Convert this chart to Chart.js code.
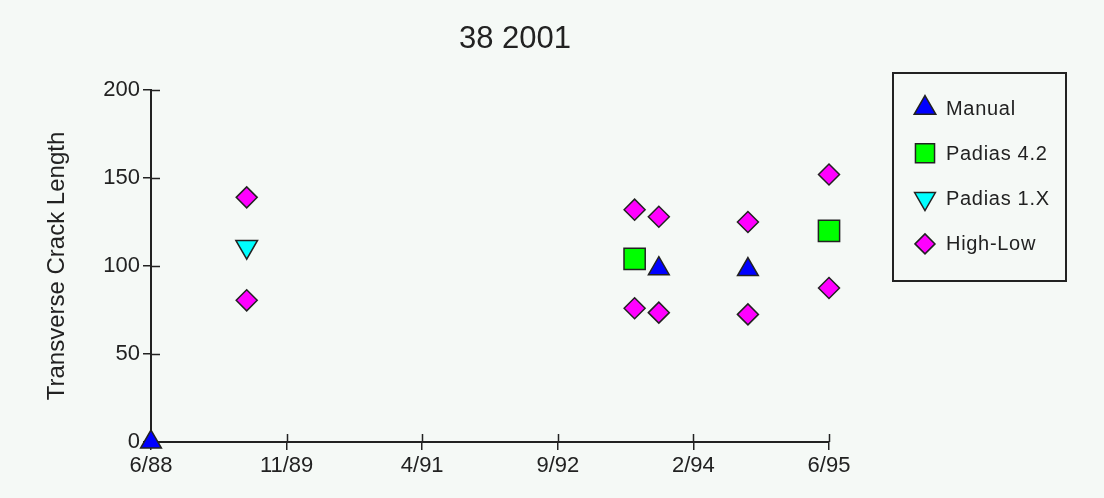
<!DOCTYPE html>
<html>
<head>
<meta charset="utf-8">
<script src="https://cdn.jsdelivr.net/npm/chart.js@4.4.0/dist/chart.umd.min.js"></script>
<style>
  html, body { margin: 0; padding: 0; background: #f5f9f6; }
  #wrap { width: 1104px; height: 498px; }
</style>
</head>
<body>
<div id="wrap"><canvas id="chart" width="1104" height="498"></canvas></div>
<script>
// dates as decimal years
const tickYears = [1988.417, 1989.817, 1991.217, 1992.617, 1994.017, 1995.417];
const tickLabels = ['6/88', '11/89', '4/91', '9/92', '2/94', '6/95'];

const manualX = [1988.417, 1993.66, 1994.58];
const manualY = [0, 98.5, 98];
const padias42X = [1993.41, 1995.417];
const padias42Y = [104, 120];
const padias1X = [1989.405];
const padias1Y = [111];
const highLowX = [1989.405, 1989.405, 1993.41, 1993.41, 1993.66, 1993.66, 1994.58, 1994.58, 1995.417, 1995.417];
const highLowY = [139, 80.5, 132, 76, 128, 73.5, 125, 72.5, 152, 87.5];

const FONT = '"Liberation Sans", Arial, sans-serif';
const BG = '#f5f9f6';
const INK = '#222';

function pts(xs, ys) {
    return xs.map((x, i) => ({ x: x, y: ys[i] }));
}

const bgPlugin = {
    id: 'bg',
    beforeDraw(chart) {
        const ctx = chart.ctx;
        ctx.save();
        ctx.fillStyle = BG;
        ctx.fillRect(0, 0, chart.width, chart.height);
        ctx.restore();
    }
};

// tick marks cross the axis, draw the inner half
const innerTicks = {
    id: 'innerTicks',
    beforeDatasetsDraw(chart) {
        const ctx = chart.ctx;
        const xs = chart.scales.x, ys = chart.scales.y;
        const a = chart.chartArea;
        ctx.save();
        ctx.strokeStyle = INK;
        ctx.lineWidth = 1.5;
        ctx.beginPath();
        tickYears.forEach(v => {
            const px = Math.round(xs.getPixelForValue(v)) + 0.5;
            ctx.moveTo(px, a.bottom);
            ctx.lineTo(px, a.bottom - 8);
        });
        ys.ticks.forEach(t => {
            const py = Math.round(ys.getPixelForValue(t.value)) + 0.5;
            ctx.moveTo(a.left, py);
            ctx.lineTo(a.left + 9, py);
        });
        ctx.stroke();
        ctx.restore();
    }
};

const titleLegend = {
    id: 'titleLegend',
    afterDraw(chart) {
        const ctx = chart.ctx;
        ctx.save();
        ctx.fillStyle = INK;
        ctx.font = '31px ' + FONT;
        ctx.textAlign = 'center';
        ctx.textBaseline = 'middle';
        ctx.fillText('38 2001', 515, 39);

        // legend box
        ctx.strokeStyle = INK;
        ctx.lineWidth = 2;
        ctx.strokeRect(893, 73, 173, 208);
        ctx.font = '20px ' + FONT;
        ctx.textAlign = 'left';
        ctx.letterSpacing = '0.7px';
        chart.data.datasets.forEach((ds, i) => {
            const y = 108 + i * 45.3;
            ctx.fillStyle = ds.pointBackgroundColor;
            ctx.strokeStyle = ds.pointBorderColor;
            ctx.lineWidth = 1.5;
            Chart.helpers.drawPoint(ctx, {
                pointStyle: ds.pointStyle,
                rotation: ds.pointRotation || 0,
                radius: ds.legendRadius,
                borderWidth: 1.5
            }, 925, y);
            ctx.fillStyle = INK;
            ctx.fillText(ds.label, 946, y + 1);
        });
        ctx.restore();
    }
};

new Chart(document.getElementById('chart'), {
    type: 'scatter',
    data: {
        datasets: [
            {
                label: 'Manual',
                data: pts(manualX, manualY),
                pointStyle: 'triangle',
                pointRadius: 12,
                legendRadius: 12.5,
                pointBackgroundColor: '#0000ff',
                pointBorderColor: INK,
                pointBorderWidth: 1.5,
                clip: false
            },
            {
                label: 'Padias 4.2',
                data: pts(padias42X, padias42Y),
                pointStyle: 'rect',
                pointRadius: 15,
                legendRadius: 13.5,
                pointBackgroundColor: '#00ff00',
                pointBorderColor: INK,
                pointBorderWidth: 1.5,
                clip: false
            },
            {
                label: 'Padias 1.X',
                data: pts(padias1X, padias1Y),
                pointStyle: 'triangle',
                pointRotation: 180,
                pointRadius: 12.5,
                legendRadius: 12,
                pointBackgroundColor: '#00ffff',
                pointBorderColor: INK,
                pointBorderWidth: 1.5,
                clip: false
            },
            {
                label: 'High-Low',
                data: pts(highLowX, highLowY),
                pointStyle: 'rectRot',
                pointRadius: 10.5,
                legendRadius: 10,
                pointBackgroundColor: '#ff00ff',
                pointBorderColor: INK,
                pointBorderWidth: 1.5,
                clip: false
            }
        ]
    },
    options: {
        responsive: false,
        animation: false,
        layout: {
            padding: { top: 90, left: 0, right: 275, bottom: 0 }
        },
        plugins: {
            legend: { display: false },
            title: { display: false },
            tooltip: { enabled: false }
        },
        scales: {
            x: {
                type: 'linear',
                min: tickYears[0],
                max: tickYears[tickYears.length - 1],
                afterBuildTicks: function(scale) {
                    scale.ticks = tickYears.map(v => ({ value: v }));
                },
                afterFit: function(scale) {
                    scale.height = 56;
                },
                ticks: {
                    autoSkip: false,
                    maxRotation: 0,
                    padding: 3,
                    color: INK,
                    font: { family: FONT, size: 22 },
                    callback: function(value, index) {
                        return tickLabels[index];
                    }
                },
                grid: {
                    drawOnChartArea: false,
                    color: INK,
                    lineWidth: 1.5,
                    tickLength: 8
                },
                border: { color: INK, width: 2 }
            },
            y: {
                min: 0,
                max: 200,
                afterFit: function(scale) {
                    scale.width = 151;
                },
                ticks: {
                    stepSize: 50,
                    padding: 3,
                    color: INK,
                    font: { family: FONT, size: 22 }
                },
                grid: {
                    drawOnChartArea: false,
                    color: INK,
                    lineWidth: 1.5,
                    tickLength: 8
                },
                border: { color: INK, width: 2 },
                title: {
                    display: true,
                    text: 'Transverse Crack Length',
                    color: INK,
                    font: { family: FONT, size: 24 },
                    padding: { top: 43, bottom: 0 }
                }
            }
        }
    },
    plugins: [bgPlugin, innerTicks, titleLegend]
});
</script>
</body>
</html>
